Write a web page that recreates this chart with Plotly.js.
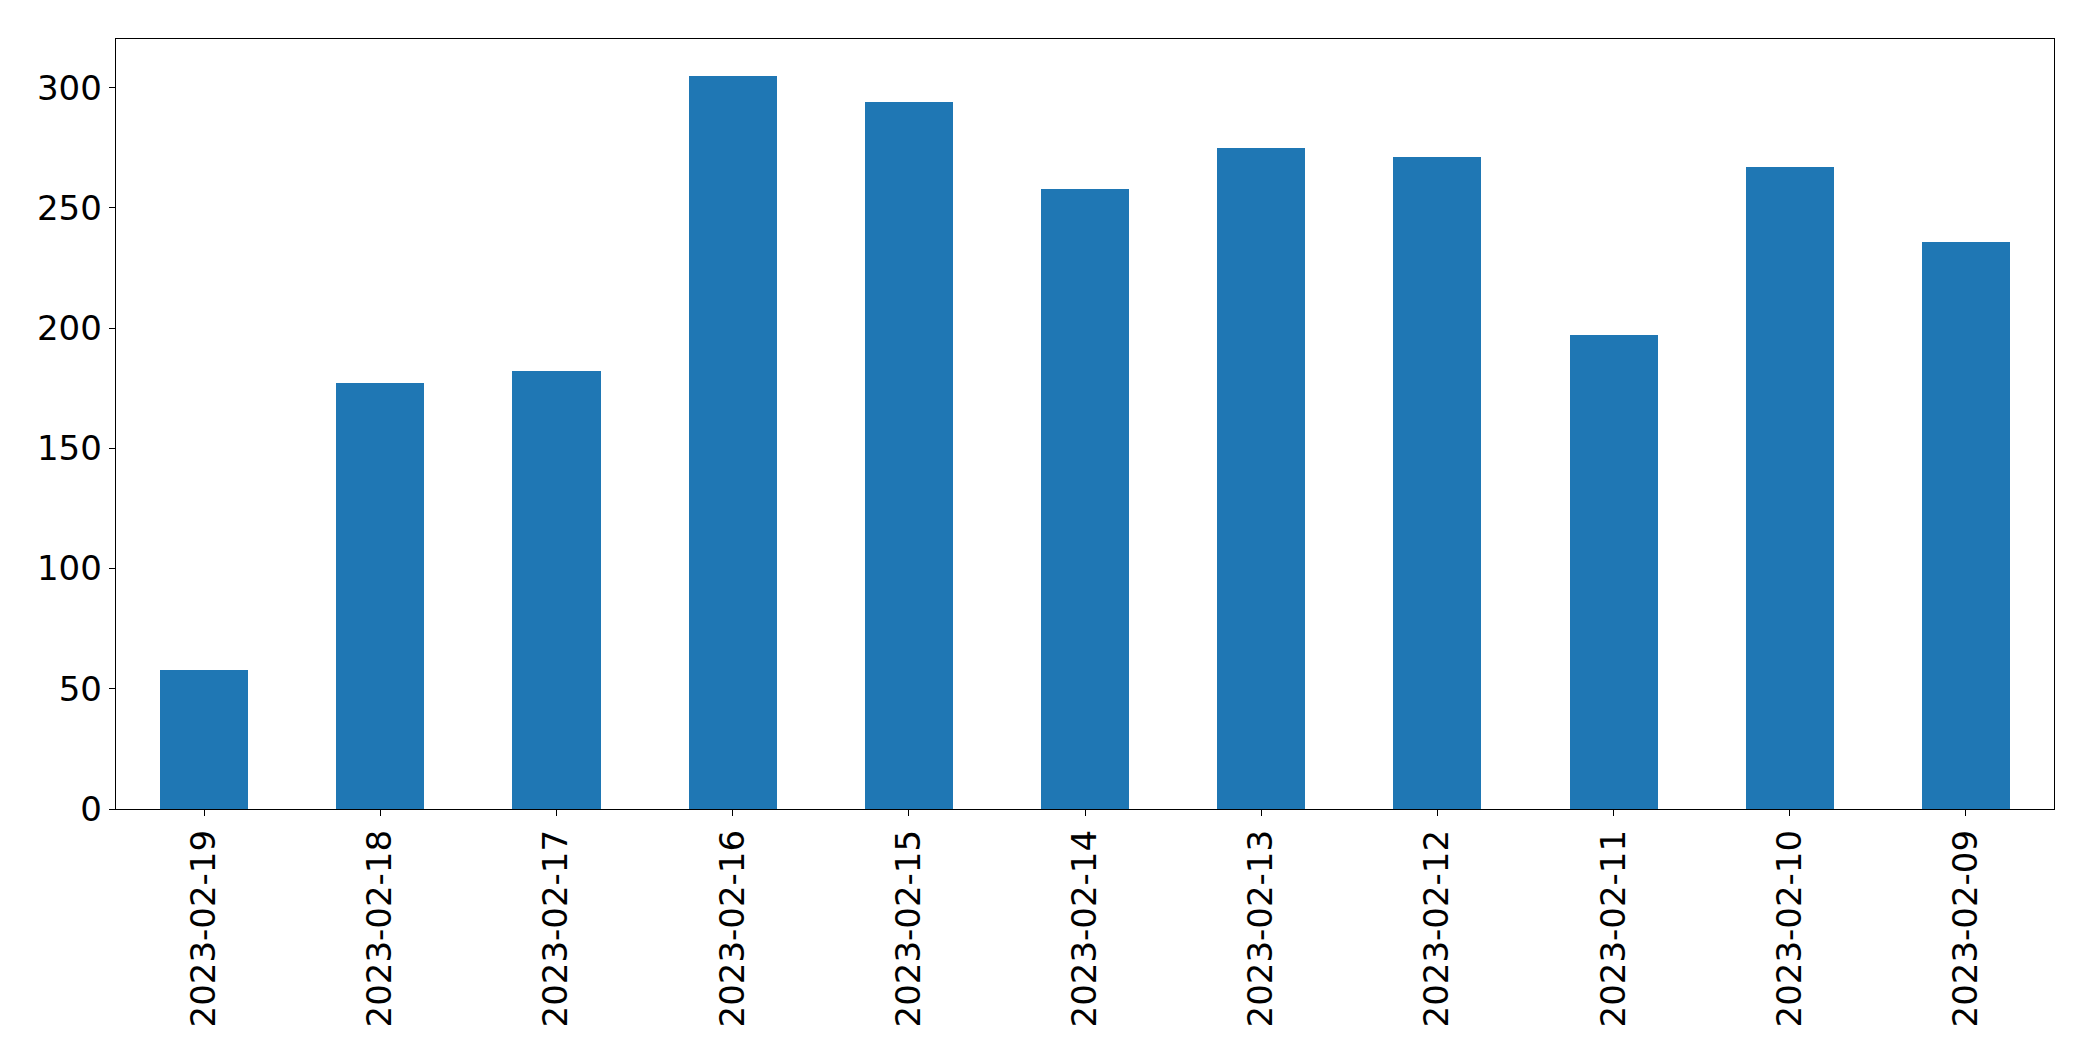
<!DOCTYPE html>
<html>
<head>
<meta charset="utf-8">
<script src="https://cdn.plot.ly/plotly-3.0.1.min.js"></script>
<style>html,body{margin:0;padding:0;background:#fff;}#chart{width:2093px;height:1061px;}</style>
</head>
<body>
<div id="chart"></div>
<script>
const dates = ["2023-02-19","2023-02-18","2023-02-17","2023-02-16","2023-02-15","2023-02-14","2023-02-13","2023-02-12","2023-02-11","2023-02-10","2023-02-09"];
const counts = [58, 177, 182, 305, 294, 258, 275, 271, 197, 267, 236];
const yTicks = [0, 50, 100, 150, 200, 250, 300];

const trace = {
  type: "bar",
  x: dates,
  y: counts,
  width: 0.5,
  marker: {color: "#1f77b4", line: {width: 0}},
  hoverinfo: "x+y"
};

const layout = {
  width: 2093,
  height: 1061,
  margin: {l: 116, r: 39, t: 39, b: 252, pad: 0},
  paper_bgcolor: "#ffffff",
  plot_bgcolor: "#ffffff",
  showlegend: false,
  font: {family: "DejaVu Sans", size: 34, color: "#000000"},
  bargap: 0,
  xaxis: {
    type: "category",
    range: [-0.5, dates.length - 0.5],
    tickangle: -90,
    ticks: "outside",
    ticklen: 6,
    tickwidth: 1,
    tickcolor: "#000",
    showline: true,
    mirror: true,
    linecolor: "#000",
    linewidth: 1.3,
    showgrid: false,
    zeroline: false,
    tickfont: {family: "DejaVu Sans", size: 34, color: "#000"}
  },
  yaxis: {
    range: [0, Math.max(...counts) * 1.05],
    tickmode: "array",
    tickvals: yTicks,
    ticktext: yTicks.map(String),
    ticks: "outside",
    ticklen: 6,
    tickwidth: 1,
    tickcolor: "#000",
    showline: true,
    mirror: true,
    linecolor: "#000",
    linewidth: 1.3,
    showgrid: false,
    zeroline: false,
    tickfont: {family: "DejaVu Sans", size: 34, color: "#000"}
  }
};

Plotly.newPlot("chart", [trace], layout, {staticPlot: true, displayModeBar: false});
</script>
</body>
</html>
